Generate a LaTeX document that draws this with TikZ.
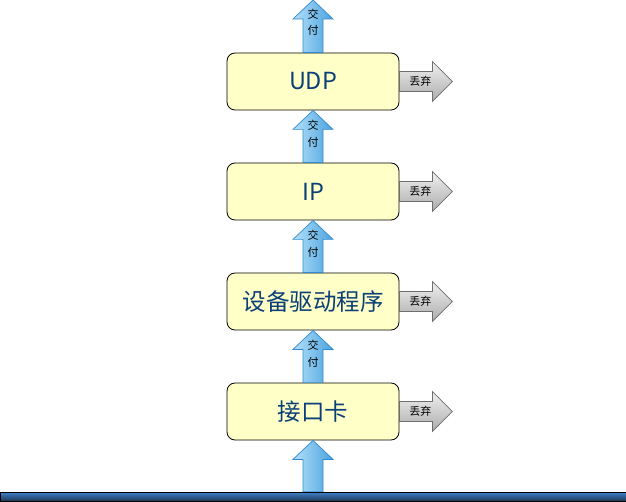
\documentclass[tikz,border=0pt]{standalone}
\usepackage{fontspec}
\usepackage{xcolor}
\usepackage{tikz}
\usetikzlibrary{calc}
\newfontfamily\cjk{Noto Sans CJK SC}

\definecolor{boxfill}{HTML}{FFFFC8}
\definecolor{boxtext}{HTML}{0B3F78}
\definecolor{upleft}{HTML}{B4E0FA}
\definecolor{upright}{HTML}{4AA2DE}
\definecolor{upline}{HTML}{2F8BD0}
\definecolor{dropline}{HTML}{6E6E6E}
\definecolor{wiretop}{HTML}{3F82D0}
\definecolor{wirebot}{HTML}{1F3550}

\tikzset{
  layer/.style={draw=black, line width=0.8pt, fill=boxfill, rounded corners=8pt,
    minimum width=172pt, minimum height=57pt, text=boxtext,
    font=\cjk\fontsize{23.5}{26}\selectfont},
  deliver/.style={draw=upline, line width=0.7pt, left color=upleft, right color=upright},
  drop/.style={draw=dropline, line width=0.7pt, top color=gray!12, bottom color=gray!65},
  smalltxt/.style={font=\cjk\fontsize{11}{16.5}\selectfont, align=center, inner sep=0pt}
}

% up arrow from #1 (tail) to #2 (tip)
\newcommand{\deliverarrow}[2]{%
  \path[deliver] let \p1=(#1), \p2=(#2) in
    (\x1-10pt,\y1) -- (\x1-10pt,\y2-19pt) -- (\x1-20pt,\y2-19pt) -- (\x1,\y2)
    -- (\x1+20pt,\y2-19pt) -- (\x1+10pt,\y2-19pt) -- (\x1+10pt,\y1) -- cycle;}

% discard arrow out of the right side of a layer
\newcommand{\droparrow}[1]{%
  \path[drop] ($(#1.east)+(0,-10)$) -- ++(33,0) -- ++(0,-10) -- ++(20,20)
    -- ++(-20,20) -- ++(0,-10) -- ++(-33,0) -- cycle;
  \node[smalltxt] (#1-drop) at ($(#1.east)+(21,0)$) {丢弃};}

\begin{document}
\begin{tikzpicture}[x=1pt, y=-1pt]
  \useasboundingbox (0,0) rectangle (626,502);

  % layers
  \node[layer] (udp) at (313,81.5) {UDP};
  \node[layer] (ip)  at (313,191.5) {IP};
  \node[layer] (drv) at (313,301.5) {设备驱动程序};
  \node[layer] (nic) at (313,411.5) {接口卡};

  % the wire
  \node[draw=black, line width=0.8pt, top color=wiretop, bottom color=wirebot,
    minimum width=626pt, minimum height=9pt, inner sep=0pt] (wire) at (313,496.5) {};
  \coordinate (top) at (313,0);

  % delivered upwards
  \deliverarrow{wire.north}{nic.south}
  \deliverarrow{nic.north}{drv.south}
  \deliverarrow{drv.north}{ip.south}
  \deliverarrow{ip.north}{udp.south}
  \deliverarrow{udp.north}{top}
  \node[smalltxt] (d1) at ($(nic.north)!0.55!(drv.south)$) {交\\付};
  \node[smalltxt] (d2) at ($(drv.north)!0.55!(ip.south)$) {交\\付};
  \node[smalltxt] (d3) at ($(ip.north)!0.55!(udp.south)$) {交\\付};
  \node[smalltxt] (d4) at ($(udp.north)!0.58!(top)$) {交\\付};

  % discarded
  \droparrow{udp}
  \droparrow{ip}
  \droparrow{drv}
  \droparrow{nic}
\end{tikzpicture}
\end{document}
